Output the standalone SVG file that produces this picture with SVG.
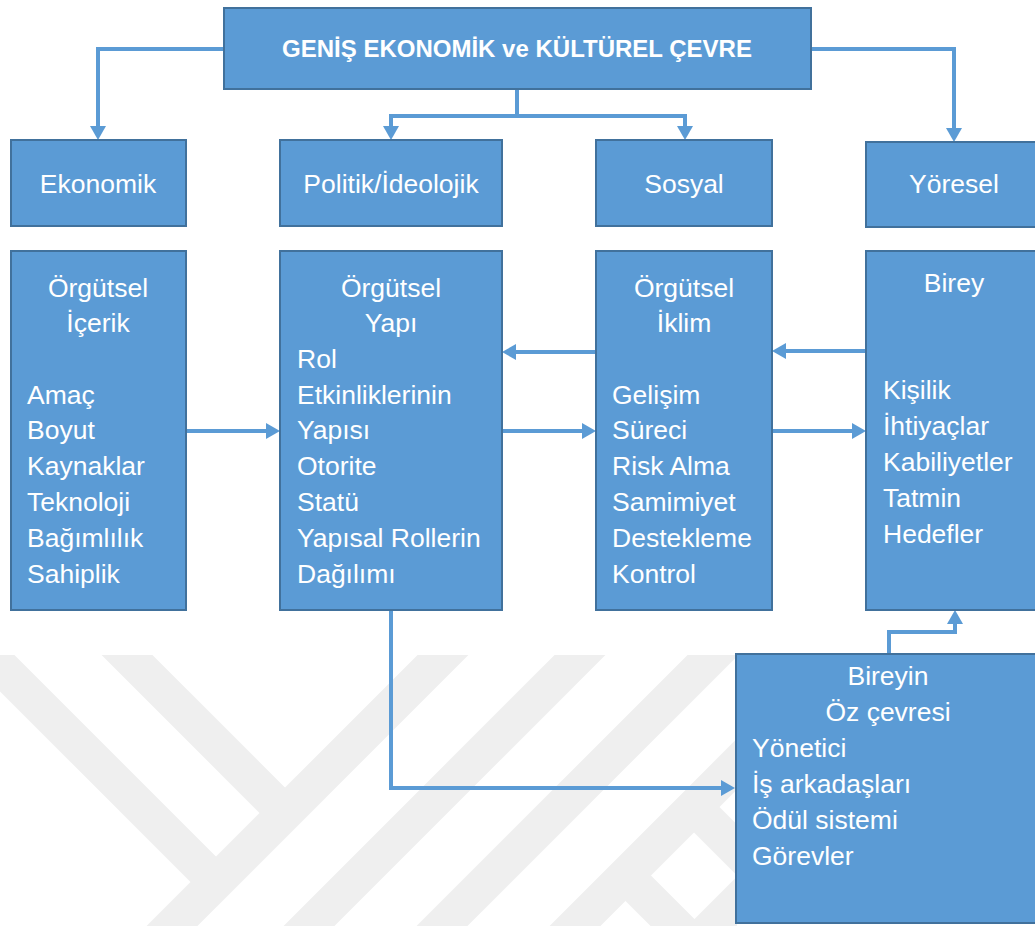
<svg xmlns="http://www.w3.org/2000/svg" width="1035" height="926" viewBox="0 0 1035 926">
<style>
.box{fill:#5B9BD5;stroke:#41719C;stroke-width:2}
.t{font-family:"Liberation Sans",Arial,sans-serif;font-size:26.5px;fill:#FFFFFF}
.c{text-anchor:middle}
.title{font-family:"Liberation Sans",Arial,sans-serif;font-size:24px;font-weight:bold;fill:#FFFFFF;text-anchor:middle}
.conn{fill:none;stroke:#5B9BD5;stroke-width:4;marker-end:url(#ah)}
.wm{fill:none;stroke:#EFEFEF;stroke-linecap:butt}
</style>
<defs>
<marker id="ah" viewBox="0 0 14 16" refX="0" refY="8" markerWidth="14" markerHeight="16" markerUnits="userSpaceOnUse" orient="auto">
<path d="M0,0 L14,8 L0,16 z" fill="#5B9BD5"/>
</marker>
<clipPath id="wmclip"><rect x="0" y="655" width="737" height="271"/></clipPath>
</defs>
<rect width="1035" height="926" fill="#FFFFFF"/>
<g id="watermark" clip-path="url(#wmclip)">
<g class="wm" stroke-width="36">
<path d="M-40,626 L216,882"/>
<path d="M80,608 L285,813"/>
<path d="M140,958 L480,618"/>
<path d="M270,965 L620,615"/>
<path d="M400,968 L760,608"/>
<path d="M530,971 L900,601"/>
<path d="M670,969 L900,739"/>
<path d="M694,807 L860,973"/>
<path d="M625,875 L760,1010"/>
</g>
</g>
<g id="connectors">
<path class="conn" d="M224,49 H98 V126"/>
<path class="conn" d="M517,89 V116 H391 V126"/>
<path class="conn" d="M517,116 H685 V126"/>
<path class="conn" d="M811,49 H954 V128"/>
<path class="conn" d="M186,431 H266"/>
<path class="conn" d="M502,431 H582"/>
<path class="conn" d="M772,431 H852"/>
<path class="conn" d="M596,352 H516"/>
<path class="conn" d="M866,351 H786"/>
<path class="conn" d="M391,610 V788 H721"/>
<path class="conn" d="M889,654 V632 H955 V624"/>
</g>
<g id="genis">
<rect class="box" x="224" y="8" width="587" height="81"/>
<text class="title" x="517" y="57">GENİŞ EKONOMİK ve KÜLTÜREL ÇEVRE</text>
</g>
<g id="ekonomik">
<rect class="box" x="11" y="140" width="175" height="86"/>
<text class="t c" x="98" y="193">Ekonomik</text>
</g>
<g id="politik">
<rect class="box" x="280" y="140" width="222" height="86"/>
<text class="t c" x="391" y="193">Politik/İdeolojik</text>
</g>
<g id="sosyal">
<rect class="box" x="596" y="140" width="176" height="86"/>
<text class="t c" x="684" y="193">Sosyal</text>
</g>
<g id="yoresel">
<rect class="box" x="866" y="142" width="180" height="85"/>
<text class="t c" x="954" y="193">Yöresel</text>
</g>
<g id="icerik">
<rect class="box" x="11" y="251" width="175" height="359"/>
<text class="t c" x="98" y="297">Örgütsel</text>
<text class="t c" x="98" y="332">İçerik</text>
<text class="t" x="27" y="404">Amaç</text>
<text class="t" x="27" y="439">Boyut</text>
<text class="t" x="27" y="475">Kaynaklar</text>
<text class="t" x="27" y="511">Teknoloji</text>
<text class="t" x="27" y="547">Bağımlılık</text>
<text class="t" x="27" y="583">Sahiplik</text>
</g>
<g id="yapi">
<rect class="box" x="280" y="251" width="222" height="359"/>
<text class="t c" x="391" y="297">Örgütsel</text>
<text class="t c" x="391" y="332">Yapı</text>
<text class="t" x="297" y="368">Rol</text>
<text class="t" x="297" y="404">Etkinliklerinin</text>
<text class="t" x="297" y="439">Yapısı</text>
<text class="t" x="297" y="475">Otorite</text>
<text class="t" x="297" y="511">Statü</text>
<text class="t" x="297" y="547">Yapısal Rollerin</text>
<text class="t" x="297" y="583">Dağılımı</text>
</g>
<g id="iklim">
<rect class="box" x="596" y="251" width="176" height="359"/>
<text class="t c" x="684" y="297">Örgütsel</text>
<text class="t c" x="684" y="332">İklim</text>
<text class="t" x="612" y="404">Gelişim</text>
<text class="t" x="612" y="439">Süreci</text>
<text class="t" x="612" y="475">Risk Alma</text>
<text class="t" x="612" y="511">Samimiyet</text>
<text class="t" x="612" y="547">Destekleme</text>
<text class="t" x="612" y="583">Kontrol</text>
</g>
<g id="birey">
<rect class="box" x="866" y="251" width="180" height="359"/>
<text class="t c" x="954" y="292">Birey</text>
<text class="t" x="883" y="399">Kişilik</text>
<text class="t" x="883" y="435">İhtiyaçlar</text>
<text class="t" x="883" y="471">Kabiliyetler</text>
<text class="t" x="883" y="507">Tatmin</text>
<text class="t" x="883" y="543">Hedefler</text>
</g>
<g id="ozcevre">
<rect class="box" x="736" y="654" width="310" height="269"/>
<text class="t c" x="888" y="685">Bireyin</text>
<text class="t c" x="888" y="721">Öz çevresi</text>
<text class="t" x="752" y="757">Yönetici</text>
<text class="t" x="752" y="793">İş arkadaşları</text>
<text class="t" x="752" y="829">Ödül sistemi</text>
<text class="t" x="752" y="865">Görevler</text>
</g>
</svg>
